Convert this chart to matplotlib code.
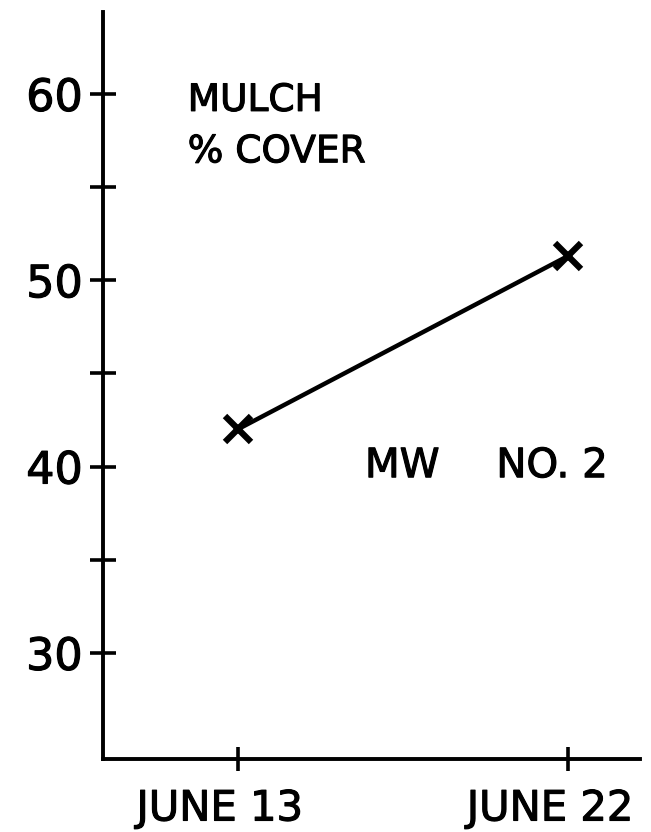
import numpy as np
import matplotlib.pyplot as plt
import matplotlib.patheffects as pe
from matplotlib.transforms import ScaledTranslation

# mulch cover on plot MW No. 2
days = [13, 22]
day_labels = ['JUNE 13', 'JUNE 22']
cover = [42, 51.3]

y_major = [30, 40, 50, 60]
y_minor = [35, 45, 55]

plt.rcParams['font.family'] = 'DejaVu Sans'
# heavier pen stroke for the lettering
ink = [pe.withStroke(linewidth=0.8, foreground='black')]

fig = plt.figure(figsize=(6.51, 8.32), dpi=100)
ax = fig.add_axes([0.158, 0.0877, 0.825, 0.898])

ax.plot(days, cover, color='black', lw=3.2, solid_capstyle='round')
ax.plot(days, cover, 'x', color='black', ms=19, mew=4.5)

ax.set_xlim(9.32, 23.96)
ax.set_ylim(24.3, 64.4)

for s in ['top', 'right']:
    ax.spines[s].set_visible(False)
for s in ['left', 'bottom']:
    ax.spines[s].set_linewidth(2.8)

ax.set_yticks(y_major)
ax.set_yticklabels([str(v) for v in y_major], fontsize=32)
ax.set_yticks(y_minor, minor=True)
ax.set_xticks(days)
ax.set_xticklabels(day_labels, fontsize=30)

ax.tick_params(axis='y', which='both', direction='inout', length=19, width=2.6, pad=5)
ax.tick_params(axis='x', which='both', direction='inout', length=17, width=2.6, pad=12)

# date labels sit a little left of their ticks
shift = ScaledTranslation(-18 / 100, 0, fig.dpi_scale_trans)
for lab in ax.get_xticklabels():
    lab.set_transform(lab.get_transform() + shift)
for lab in ax.get_xticklabels() + ax.get_yticklabels():
    lab.set_path_effects(ink)

ax.text(0.158, 0.905, 'MULCH\n% COVER', transform=ax.transAxes, fontsize=27,
        va='top', ha='left', linespacing=1.55, path_effects=ink)
ax.text(0.488, 0.392, 'MW', transform=ax.transAxes, fontsize=29,
        va='center', ha='left', path_effects=ink)
ax.text(0.94, 0.392, 'NO. 2', transform=ax.transAxes, fontsize=29,
        va='center', ha='right', path_effects=ink)

plt.savefig('out.png', dpi=100)
